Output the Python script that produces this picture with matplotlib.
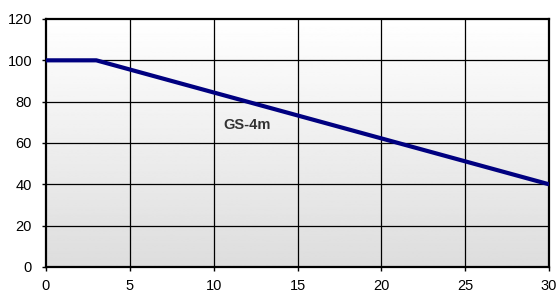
import numpy as np
import matplotlib.pyplot as plt

plt.rcParams['font.family'] = ['Liberation Sans', 'DejaVu Sans']

x = [0, 3, 30]
y = [100, 100, 40]
xticks = [0, 5, 10, 15, 20, 25, 30]
yticks = [0, 20, 40, 60, 80, 100, 120]
label = "GS-4m"

fig = plt.figure(figsize=(5.58, 2.95), dpi=100)
ax = fig.add_axes([0.0824, 0.095, 0.9016, 0.8406])

# gradient background, white at top to light gray at bottom
grad = np.linspace(1.0, 0.0, 256).reshape(-1, 1)
ax.imshow(grad, extent=[0, 30, 0, 120], aspect='auto', cmap='gray',
          vmin=-6.5, vmax=1.0, zorder=0, origin='upper')

for t in xticks[1:-1]:
    ax.axvline(t, color='black', lw=0.9, zorder=1)
for t in yticks[1:-1]:
    ax.axhline(t, color='black', lw=0.9, zorder=1)

ax.plot(x, y, color='#000080', lw=3, zorder=3, solid_capstyle='butt')
ax.text(12.0, 68.5, label, fontsize=10.5, fontweight='bold', color='#333333',
        ha='center', va='center', zorder=4)

ax.set_xlim(0, 30)
ax.set_ylim(0, 120)
ax.set_xticks(xticks)
ax.set_yticks(yticks)
ax.tick_params(labelsize=10.5, length=3, width=1, direction='out')
ax.tick_params(axis='x', pad=6)
ax.tick_params(axis='y', pad=7)
for s in ax.spines.values():
    s.set_linewidth(1.6)

fig.savefig("out.png", dpi=100)
